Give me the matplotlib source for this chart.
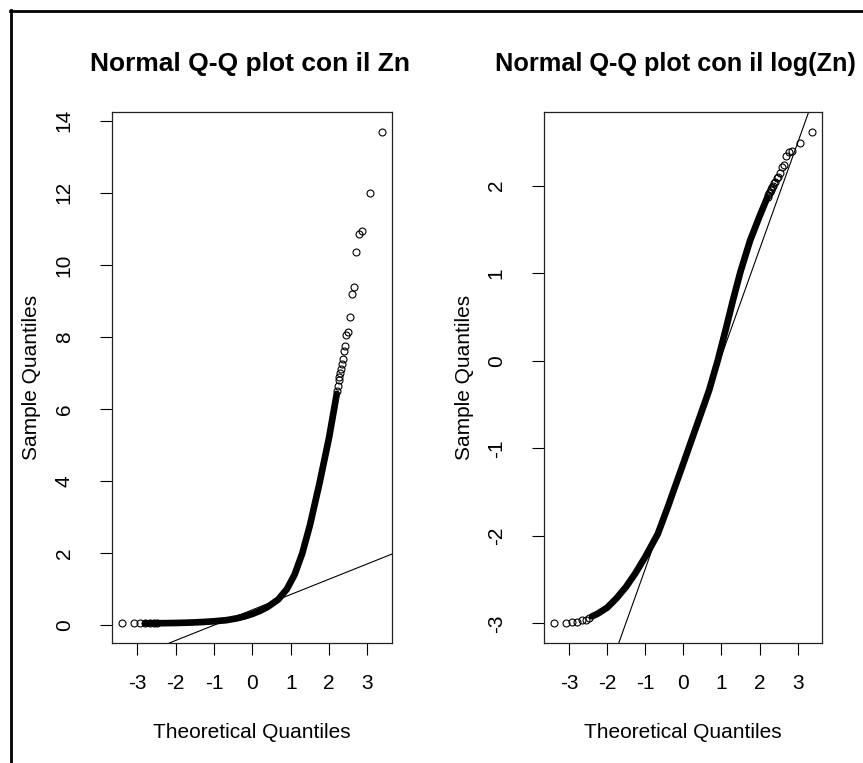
import statistics

import numpy as np
import matplotlib
matplotlib.use('Agg')
import matplotlib.pyplot as plt
from matplotlib.lines import Line2D

plt.rcParams['font.family'] = ['Liberation Sans', 'DejaVu Sans']
plt.rcParams['axes.unicode_minus'] = False

# lower tail of the Zn sample (theoretical quantile, value), single points
q_low = [-3.39, -3.08, -2.92, -2.79, -2.66, -2.56, -2.48]
zn_low = [0.0498, 0.0500, 0.0503, 0.0508, 0.0515, 0.0520, 0.0527]

# body of the sample: points so dense they merge into one band
q_mid = [-2.40, -2.25, -2.00, -1.75, -1.50, -1.25, -1.00, -0.674, -0.40, -0.20,
         0.00, 0.20, 0.40, 0.674, 0.90, 1.10, 1.30, 1.50, 1.75, 2.00, 2.20]
zn_mid = [0.0539, 0.0556, 0.0596, 0.0665, 0.0758, 0.0889, 0.1065, 0.138, 0.190, 0.243,
          0.310, 0.397, 0.507, 0.712, 1.00, 1.40, 1.99, 2.77, 3.94, 5.21, 6.42]

# upper tail, single points
q_up = [2.21, 2.23, 2.25, 2.27, 2.29, 2.31, 2.33, 2.35, 2.38, 2.41,
        2.45, 2.49, 2.55, 2.60, 2.64, 2.70, 2.77, 2.86, 3.06, 3.37]
zn_up = [6.5, 6.65, 6.8, 6.9, 7.0, 7.1, 7.25, 7.4, 7.6, 7.75,
         8.05, 8.15, 8.55, 9.2, 9.4, 10.35, 10.85, 10.95, 12.0, 13.7]

# sample quartiles, used for the reference line
zn_q1 = 0.138
zn_q3 = 0.712

titles = ['Normal Q-Q plot con il Zn', 'Normal Q-Q plot con il log(Zn)']
x_ticks = [-3, -2, -1, 0, 1, 2, 3]
y_ticks = [[0, 2, 4, 6, 8, 10, 12, 14], [-3, -2, -1, 0, 1, 2]]

W, H = 863, 763
fig = plt.figure(figsize=(W / 100, H / 100), dpi=100)
fig.patch.set_facecolor('white')

boxes = [(112, 112, 392, 643), (544, 112, 822, 643)]
transforms = [lambda v: np.asarray(v, dtype=float), np.log]
# on the raw scale the low values sit on one row, so the band starts earlier
band_from = [3, len(q_low)]
z75 = statistics.NormalDist().inv_cdf(0.75)

for k in range(2):
    x0, y0, x1, y1 = boxes[k]
    ax = fig.add_axes([x0 / W, 1 - y1 / H, (x1 - x0) / W, (y1 - y0) / H])
    f = transforms[k]

    bq = q_low[band_from[k]:] + q_mid
    bv = zn_low[band_from[k]:] + zn_mid
    ax.plot(bq, f(bv), color='black', lw=4.8,
            solid_capstyle='round', solid_joinstyle='round')
    for qq, vv in ((q_low, zn_low), (q_up, zn_up)):
        ax.plot(qq, f(vv), 'o', mfc='none', mec='black', ms=5, mew=0.8)

    # qqline: through the first and third quartiles
    a, b = f([zn_q1, zn_q3])
    slope = (b - a) / (2 * z75)
    ax.axline((0, (a + b) / 2), slope=slope, color='black', lw=0.8)

    all_q = q_low + q_mid + q_up
    all_v = np.concatenate([f(zn_low), f(zn_mid), f(zn_up)])
    xr = max(all_q) - min(all_q)
    yr = all_v.max() - all_v.min()
    ax.set_xlim(min(all_q) - 0.04 * xr, max(all_q) + 0.04 * xr)
    ax.set_ylim(all_v.min() - 0.04 * yr, all_v.max() + 0.04 * yr)

    ax.set_xticks(x_ticks)
    ax.set_yticks(y_ticks[k])
    ax.set_xticklabels([str(t) for t in x_ticks])
    ax.set_yticklabels([str(t) for t in y_ticks[k]], rotation=90, va='center')
    ax.tick_params(axis='both', direction='out', length=8.6, width=0.8,
                   labelsize=15, colors='black')
    ax.tick_params(axis='x', pad=14)
    ax.tick_params(axis='y', pad=19)
    for s in ax.spines.values():
        s.set_linewidth(0.9)
        s.set_color('#222222')

    h = y1 - y0
    ax.text(0.5, -89 / h, 'Theoretical Quantiles', transform=ax.transAxes,
            ha='center', va='center', fontsize=15)
    ax.text(-80 / (x1 - x0), 0.5, 'Sample Quantiles', transform=ax.transAxes,
            ha='center', va='center', rotation=90, fontsize=15)

# titles; the second one runs up to the right edge of the page
fig.text(250 / W, 1 - 64 / H, titles[0], ha='center', va='center',
         fontsize=19, fontweight='bold')
fig.text(495 / W, 1 - 64 / H, titles[1], ha='left', va='center',
         fontsize=18.2, fontweight='bold')

# frame on the top and left of the page
fig.add_artist(Line2D([10 / W, 1], [1 - 11 / H] * 2, transform=fig.transFigure,
                      color='black', lw=2.0))
fig.add_artist(Line2D([11 / W] * 2, [0, 1 - 10 / H], transform=fig.transFigure,
                      color='black', lw=2.0))

fig.savefig('out.png', dpi=100)
